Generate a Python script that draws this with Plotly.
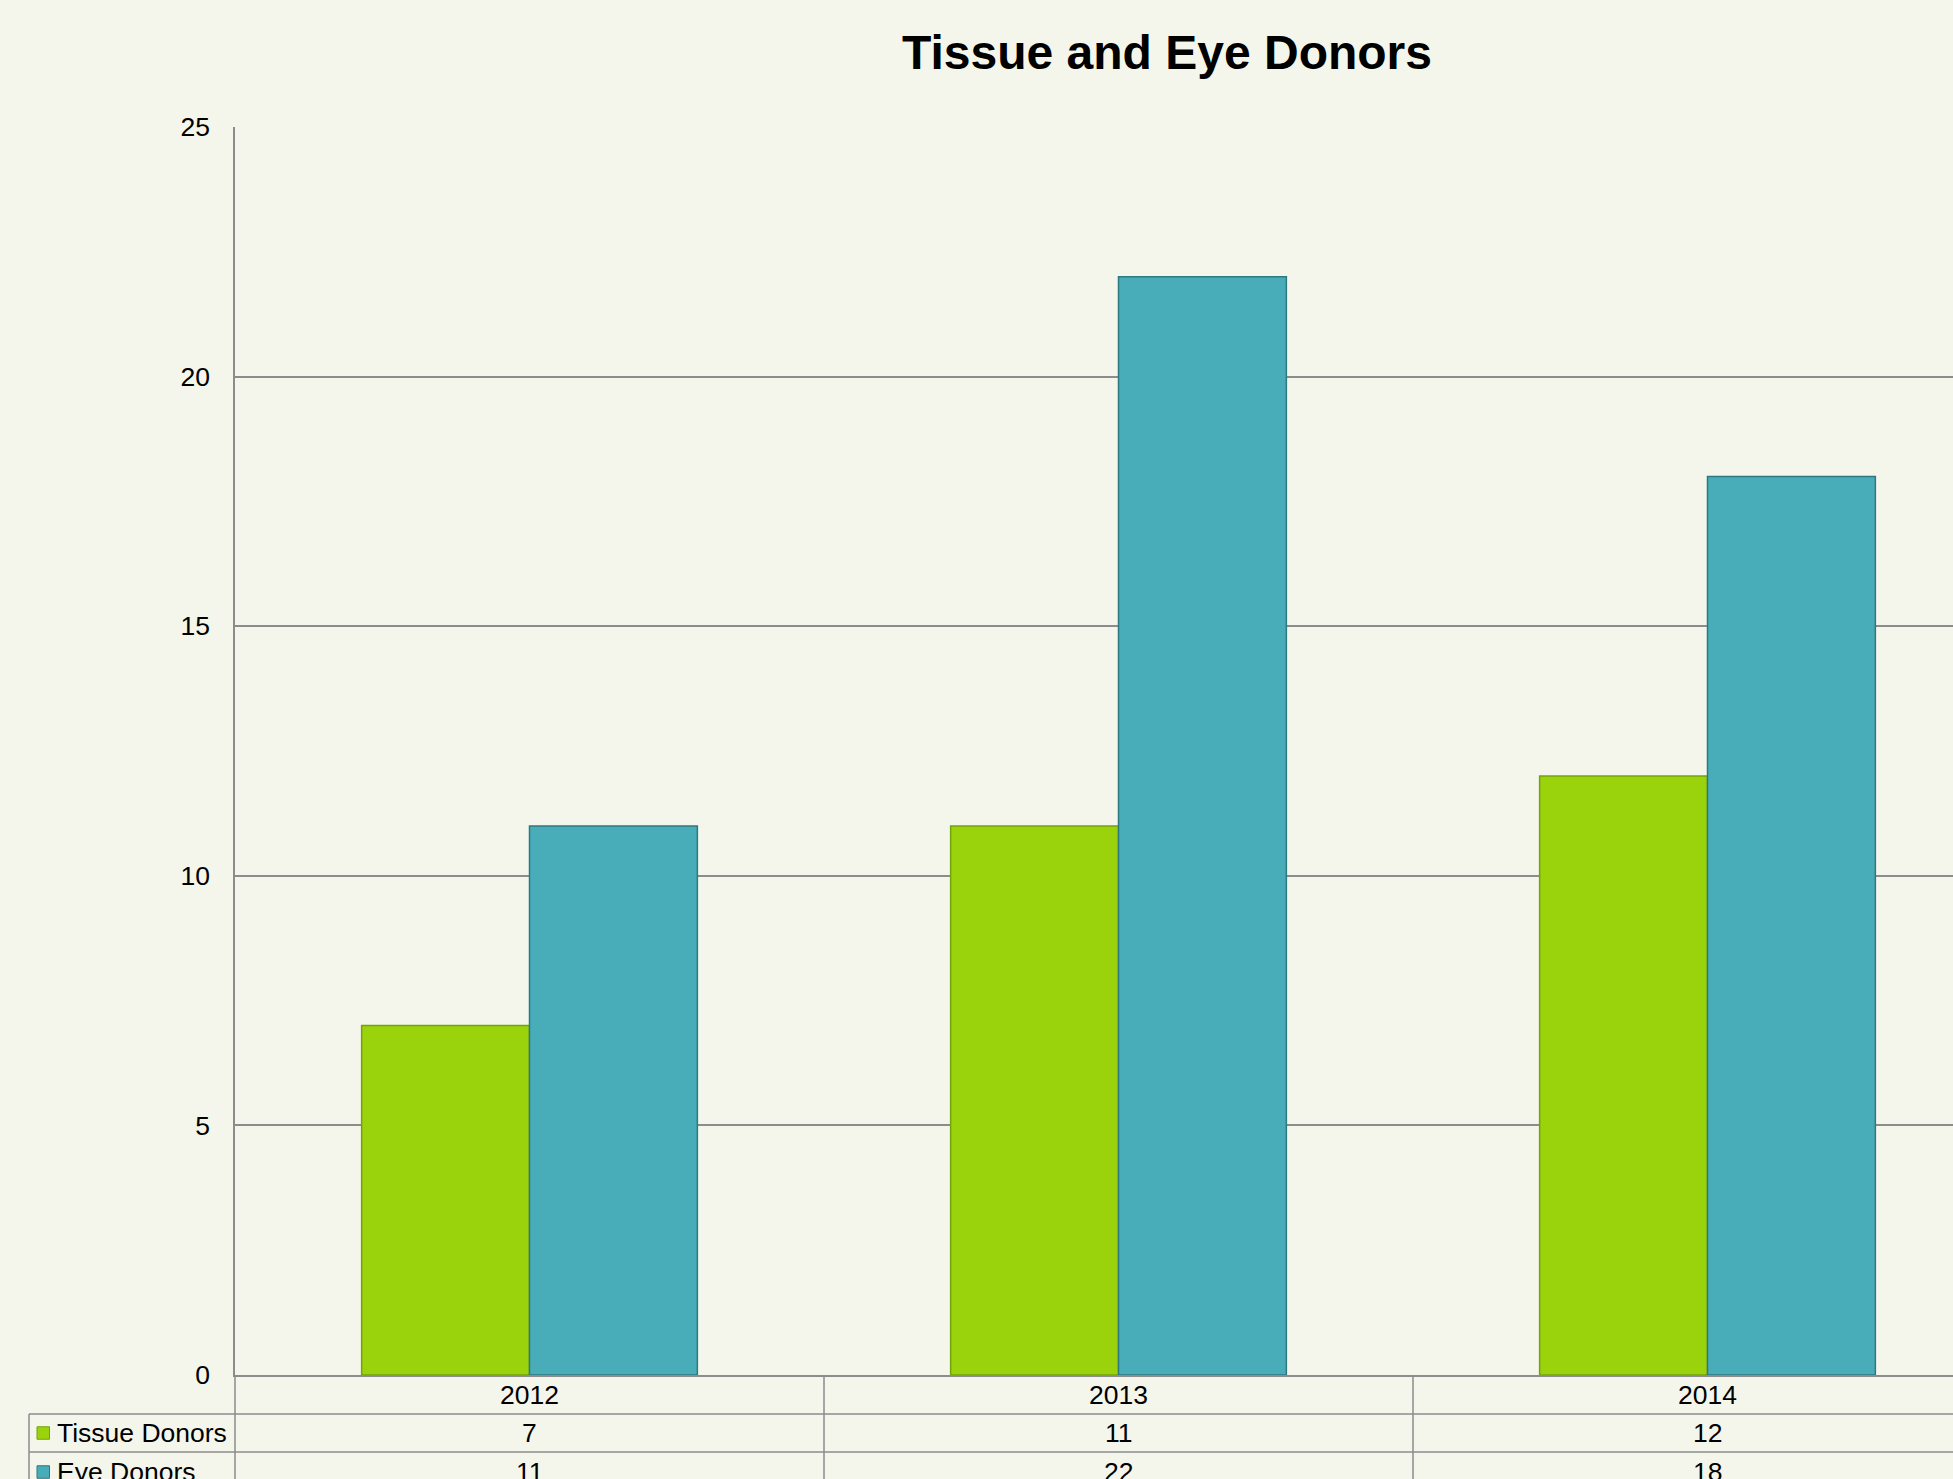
import plotly.graph_objects as go

# ---- data ----
years = ["2012", "2013", "2014"]
series_names = ["Tissue Donors", "Eye Donors"]
tissue = [7, 11, 12]
eye = [11, 22, 18]
y_ticks = [0, 5, 10, 15, 20, 25]

# ---- styling ----
FONT = "Liberation Sans, Arial, sans-serif"
FS = 26.5
GREEN = "#9ad20c"
GREEN_EDGE = "#75a20a"
BLUE = "#48adb8"
BLUE_EDGE = "#2e7880"
GRID = "#8c8c8c"
BG = "#f4f6ec"

W, H = 1953, 1479
ML, MR, MT, MB = 235, 0, 127, 104
plot_h = H - MT - MB
plot_w = W - ML - MR
cat_px = 589.0
x_min = -0.5
x_max = x_min + plot_w / cat_px

fig = go.Figure()
fig.add_trace(go.Bar(
    x=years, y=tissue, name=series_names[0],
    marker=dict(color=GREEN, line=dict(color=GREEN_EDGE, width=1.5)),
))
fig.add_trace(go.Bar(
    x=years, y=eye, name=series_names[1],
    marker=dict(color=BLUE, line=dict(color=BLUE_EDGE, width=1.5)),
))

def px_to_py(px_below):
    return -px_below / plot_h

def xdata_to_paper(v):
    return (v - x_min) / (x_max - x_min)

shapes = []
line_style = dict(color=GRID, width=1.5)
row1 = px_to_py(39)
row2 = px_to_py(77)
bottom = px_to_py(MB + 5)
left_tab = (29 - ML) / plot_w

for yy in (row1, row2):
    shapes.append(dict(type="line", xref="paper", yref="paper",
                       x0=left_tab, x1=1.01, y0=yy, y1=yy, line=line_style))
shapes.append(dict(type="line", xref="paper", yref="paper",
                   x0=left_tab, x1=left_tab, y0=row1, y1=bottom, line=line_style))
shapes.append(dict(type="line", xref="paper", yref="paper",
                   x0=0, x1=0, y0=0, y1=bottom, line=line_style))
for b in range(len(years) - 1):
    xp = xdata_to_paper(b + 0.5)
    shapes.append(dict(type="line", xref="paper", yref="paper",
                       x0=xp, x1=xp, y0=0, y1=bottom, line=line_style))

annotations = []
tfont = dict(family=FONT, size=FS, color="#000")
for i, yr in enumerate(years):
    annotations.append(dict(text=yr, xref="paper", yref="paper",
                            x=xdata_to_paper(i), y=px_to_py(19.5),
                            xanchor="center", yanchor="middle",
                            showarrow=False, font=tfont))

row_centers = [px_to_py(58), px_to_py(97)]
colors = [(GREEN, GREEN_EDGE), (BLUE, BLUE_EDGE)]
for r, (name, vals) in enumerate(zip(series_names, [tissue, eye])):
    yc = row_centers[r]
    sq = 12.5
    x0 = (37 - ML) / plot_w
    x1 = (37 + sq - ML) / plot_w
    shapes.append(dict(type="rect", xref="paper", yref="paper",
                       x0=x0, x1=x1, y0=yc - sq / 2 / plot_h, y1=yc + sq / 2 / plot_h,
                       fillcolor=colors[r][0], line=dict(color=colors[r][1], width=1)))
    annotations.append(dict(text=name, xref="paper", yref="paper",
                            x=(55 - ML) / plot_w, y=yc, xanchor="left", yanchor="middle",
                            showarrow=False, font=tfont))
    for i, v in enumerate(vals):
        annotations.append(dict(text=str(v), xref="paper", yref="paper",
                                x=xdata_to_paper(i), y=yc, xanchor="center", yanchor="middle",
                                showarrow=False, font=tfont))

fig.update_layout(
    width=W, height=H,
    margin=dict(l=ML, r=MR, t=MT, b=MB, pad=0),
    paper_bgcolor=BG, plot_bgcolor=BG,
    showlegend=False,
    barmode="group", bargap=0.43, bargroupgap=0,
    title=dict(text="<b>Tissue and Eye Donors</b>", x=1167 / W, xanchor="center",
               y=1 - 52 / H, yanchor="middle", xref="container", yref="container",
               font=dict(family=FONT, size=48, color="#000")),
    xaxis=dict(type="category", range=[x_min, x_max], showgrid=False, showline=True,
               linecolor=GRID, linewidth=1.5, ticks="", zeroline=False,
               showticklabels=False),
    yaxis=dict(range=[0, 25], tickvals=y_ticks, showgrid=True, gridcolor=GRID,
               gridwidth=1.5, showline=True, linecolor=GRID, linewidth=1.5,
               ticks="", zeroline=False, ticklabelstandoff=18,
               tickfont=tfont),
    shapes=shapes,
    annotations=annotations,
)

fig.write_html("out.html", config={"displayModeBar": False},
               post_script="document.body.style.margin='0';document.body.style.overflow='hidden';")
